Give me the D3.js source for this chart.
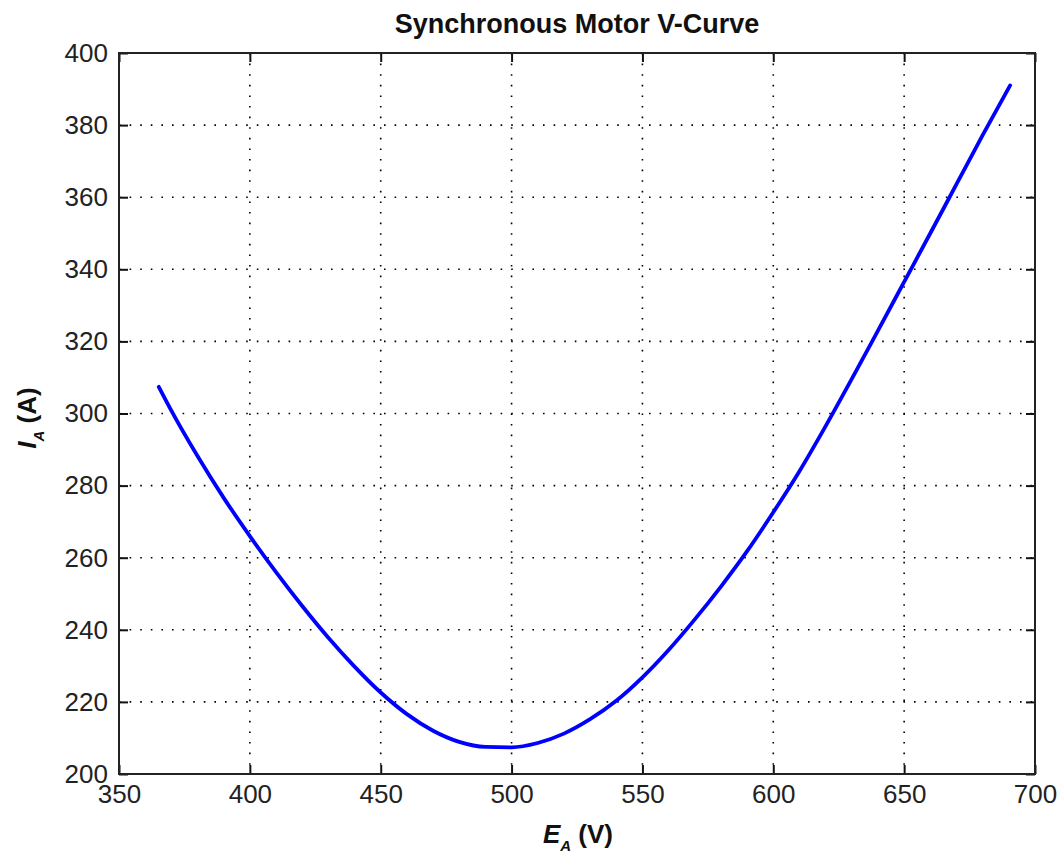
<!DOCTYPE html>
<html>
<head>
<meta charset="utf-8">
<script src="https://cdn.jsdelivr.net/npm/d3@7"></script>
<style>
body { margin: 0; background: #fff; }
text { font-family: "Liberation Sans", Arial, sans-serif; }
</style>
</head>
<body>
<div class="rep"></div>
<script>
// values (field voltage EA in V, armature current IA in A)
var ea = [365.2, 370, 380, 390, 400, 410, 420, 430, 440, 450, 460, 470, 480, 490, 500, 510,
          520, 530, 540, 550, 560, 570, 580, 590, 600, 610, 620, 630, 640, 650, 660, 670, 680, 690.5];
var ia = [307.4, 300.8, 288.2, 276.6, 266, 256, 246.6, 237.8, 229.8, 222.6, 216.6, 212, 208.9, 207.5, 207.4, 208.6,
          211.2, 215.2, 220.3, 226.8, 234.4, 242.9, 252, 261.8, 272.6, 284, 296.5, 309.6, 323, 336.5, 350, 363.6, 377.2, 391];
var xTicks = [350, 400, 450, 500, 550, 600, 650, 700];
var yTicks = [200, 220, 240, 260, 280, 300, 320, 340, 360, 380, 400];

// plot box (note: "top" is taken by window.top)
var pLeft = 119, pRight = 1035, pTop = 53, pBottom = 774;

var s = d3.select(".rep").append("svg")
    .attr("width", 1062)
    .attr("height", 854);

var x = d3.scaleLinear().domain([350, 700]).range([pLeft, pRight]);
var y = d3.scaleLinear().domain([200, 400]).range([pBottom, pTop]);

// dotted grid
s.append("g").selectAll("line")
    .data(xTicks.slice(1, -1))
    .enter().append("line")
    .attr("x1", function(d) { return x(d); })
    .attr("x2", function(d) { return x(d); })
    .attr("y1", pTop)
    .attr("y2", pBottom)
    .style("stroke", "#000")
    .style("stroke-width", 1.6)
    .style("stroke-dasharray", "1.6,9");
s.append("g").selectAll("line")
    .data(yTicks.slice(1, -1))
    .enter().append("line")
    .attr("y1", function(d) { return y(d); })
    .attr("y2", function(d) { return y(d); })
    .attr("x1", pLeft)
    .attr("x2", pRight)
    .style("stroke", "#000")
    .style("stroke-width", 1.6)
    .style("stroke-dasharray", "1.6,9");

// axes, ticks pointing inward on all four sides
var ax = [
    [d3.axisBottom(x).tickValues(xTicks), "translate(0," + pBottom + ")", true],
    [d3.axisLeft(y).tickValues(yTicks), "translate(" + pLeft + ",0)", true],
    [d3.axisTop(x).tickValues(xTicks), "translate(0," + pTop + ")", false],
    [d3.axisRight(y).tickValues(yTicks), "translate(" + pRight + ",0)", false]
];
for (k = 0; k < ax.length; k++) {
    var a = ax[k][0].tickSizeInner(-9).tickSizeOuter(0).tickPadding(11);
    if (!ax[k][2]) a.tickFormat("");
    var g = s.append("g").attr("transform", ax[k][1]).call(a);
    g.select(".domain").remove();
    g.selectAll("line").style("stroke", "#111").style("stroke-width", 2);
    g.selectAll("text")
        .style("font-family", "'Liberation Sans', Arial, sans-serif")
        .style("font-size", "26px")
        .style("fill", "#222");
}

s.append("rect")
    .attr("x", pLeft)
    .attr("y", pTop)
    .attr("width", pRight - pLeft)
    .attr("height", pBottom - pTop)
    .style("fill", "none")
    .style("stroke", "#222")
    .style("stroke-width", 2);

// the curve
var pts = ea.map(function(d, i) { return [d, ia[i]]; });
var line = d3.line()
    .x(function(d) { return x(d[0]); })
    .y(function(d) { return y(d[1]); })
    .curve(d3.curveMonotoneX);
s.append("path")
    .attr("d", line(pts))
    .style("fill", "none")
    .style("stroke", "#0000ff")
    .style("stroke-width", 3.8)
    .style("stroke-linecap", "round");

// title
s.append("text")
    .text("Synchronous Motor V-Curve")
    .attr("x", (pLeft + pRight) / 2)
    .attr("y", 33)
    .attr("text-anchor", "middle")
    .style("font-weight", "bold")
    .style("font-size", "27px")
    .style("fill", "#111");

// x label: E_A (V)
var xl = s.append("text")
    .attr("x", 578)
    .attr("y", 843)
    .attr("text-anchor", "middle")
    .style("font-weight", "bold")
    .style("font-size", "26px")
    .style("fill", "#111");
xl.append("tspan").text("E").style("font-style", "italic");
xl.append("tspan").text("A").attr("dy", 8).style("font-size", "15px").style("font-style", "italic");
xl.append("tspan").text(" (V)").attr("dy", -8);

// y label: I_A (A)
var yl = s.append("text")
    .attr("transform", "translate(36,418) rotate(-90)")
    .attr("text-anchor", "middle")
    .style("font-weight", "bold")
    .style("font-size", "26px")
    .style("fill", "#111");
yl.append("tspan").text("I").style("font-style", "italic");
yl.append("tspan").text("A").attr("dy", 8).style("font-size", "15px").style("font-style", "italic");
yl.append("tspan").text(" (A)").attr("dy", -8);
</script>
</body>
</html>
